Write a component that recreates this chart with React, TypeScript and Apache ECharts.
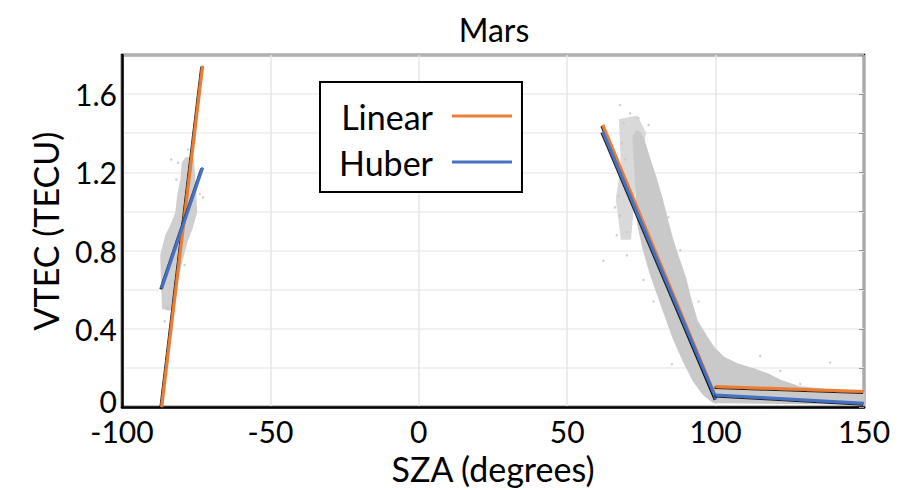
import React, { useEffect, useRef } from "react";
import * as echarts from "echarts";

const xTicks = [-100, -50, 0, 50, 100, 150];
const yLabelValues = [0, 0.4, 0.8, 1.2, 1.6];

// Fitted lines [x, y]
const linearLeft = [[-86.6, 0], [-72.8, 1.745]];
const huberLeft = [[-86.6, 0.608], [-72.8, 1.225]];
const linearRight1 = [[62.0, 1.443], [99.9, 0.059]];
const huberRight1 = [[62.0, 1.409], [100.2, 0.042]];
const linearRight2 = [[100, 0.105], [150, 0.08]];
const huberRight2 = [[100, 0.062], [150, 0.02]];

const leftCloud = [
  [-86.2, 0.506], [-86.8, 0.776], [-85.1, 0.878], [-83.4, 0.928], [-81.7, 0.996],
  [-81.1, 1.08], [-80.0, 1.164], [-79.5, 1.249], [-78.3, 1.274], [-76.1, 1.266],
  [-75.5, 1.148], [-75.0, 0.996], [-76.6, 0.911], [-78.3, 0.844], [-80.0, 0.743],
  [-81.7, 0.641], [-82.8, 0.557], [-84.0, 0.498],
];
const rightCloud = [
  [72.3, 1.384], [72.9, 1.232], [73.4, 1.063], [74.0, 0.928], [75.7, 0.81],
  [77.9, 0.692], [80.2, 0.591], [83.0, 0.473], [85.8, 0.354], [89.2, 0.236],
  [92.6, 0.135], [95.9, 0.067], [99.3, 0.025], [100.4, 0.025], [149.9, 0.017],
  [149.9, 0.076], [139.8, 0.084], [128.5, 0.101], [121.8, 0.135], [117.3, 0.169],
  [112.8, 0.194], [107.2, 0.219], [102.7, 0.253], [99.3, 0.304], [97.1, 0.354],
  [93.7, 0.439], [91.4, 0.557], [89.8, 0.658], [87.5, 0.759], [85.3, 0.861],
  [83.6, 0.962], [81.9, 1.063], [79.6, 1.181], [77.4, 1.283], [75.7, 1.367],
  [74.6, 1.401], [73.4, 1.409],
];
// Sparser halo on the upper left of the right cloud
const rightHalo = [
  [67.8, 1.468], [73.4, 1.485], [76.3, 1.401], [73.4, 1.232], [72.3, 1.063],
  [71.2, 0.861], [68.4, 0.861], [66.7, 1.063], [68.4, 1.232],
];
const sparsePoints = [
  [67.8, 1.544], [71.2, 1.502], [69.0, 1.451], [74.0, 1.477], [77.4, 1.443],
  [68.4, 1.35], [69.5, 1.266], [67.3, 1.08], [66.1, 1.021], [67.8, 0.979],
  [66.7, 0.878], [70.1, 0.895], [62.2, 0.748], [70.1, 0.776], [75.7, 0.65],
  [79.1, 0.54], [94.3, 0.54], [88.1, 0.802], [84.1, 0.97], [85.3, 0.219],
  [94.3, 0.405], [115.0, 0.262], [121.8, 0.186], [138.6, 0.228], [128.5, 0.118],
  [-83.4, 1.266], [-81.1, 1.249], [-81.7, 1.164], [-73.8, 1.089], [-72.7, 1.072],
  [-78.9, 0.726], [-85.6, 0.439], [-75.5, 1.367], [-77.8, 1.317], [-84.5, 0.506],
];
const clouds = [
  { pts: rightHalo, fill: "#d9d9d9" },
  { pts: leftCloud, fill: "#cfcfcf" },
  { pts: rightCloud, fill: "#c9c9c9" },
];

const FONT = "Lato, 'Open Sans', sans-serif";
const ORANGE = "#ED7D31";
const BLUE = "#4472C4";

export default function App() {
  const ref = useRef<HTMLDivElement>(null);
  useEffect(() => {
    document.body.style.margin = "0";
    if (!ref.current) return;
    const chart = echarts.init(ref.current, null, { renderer: "svg" });
    const mkLine = (name: string, color: string, data: number[][]) => ({
      type: "line",
      name,
      data,
      showSymbol: false,
      symbol: "none",
      lineStyle: {
        color,
        width: 3,
        shadowColor: "rgba(0,0,0,0.85)",
        shadowBlur: 0,
        shadowOffsetX: -1,
        shadowOffsetY: 1,
      },
      itemStyle: { color },
      z: 5,
    });
    chart.setOption({
      animation: false,
      textStyle: { fontFamily: FONT },
      title: {
        text: "Mars",
        left: 489,
        textAlign: "center",
        top: 8,
        textStyle: { fontSize: 32, fontWeight: "normal", color: "#000", fontFamily: FONT },
      },
      grid: {
        left: 122,
        right: 58,
        top: 55,
        bottom: 80,
        show: true,
        borderColor: "#000",
        borderWidth: 2.5,
        backgroundColor: "#fff",
      },
      legend: {
        left: 320,
        top: 82,
        orient: "vertical",
        align: "right",
        backgroundColor: "#fff",
        borderColor: "#000",
        borderWidth: 2,
        borderRadius: 0,
        padding: [17, 10, 13, 19],
        itemGap: 12,
        itemWidth: 60,
        itemHeight: 3,
        icon: "rect",
        data: [
          { name: "Linear", itemStyle: { color: ORANGE } },
          { name: "Huber", itemStyle: { color: BLUE } },
        ],
        textStyle: {
          fontSize: 34,
          color: "#000",
          fontFamily: FONT,
          padding: [0, 14, 0, 0],
        },
      },
      xAxis: {
        type: "value",
        min: xTicks[0],
        max: xTicks[xTicks.length - 1],
        interval: 50,
        name: "SZA (degrees)",
        nameLocation: "middle",
        nameGap: 41,
        nameTextStyle: { fontSize: 34, color: "#000", fontFamily: FONT },
        axisLine: { show: true, onZero: false, lineStyle: { color: "#000", width: 2.5 } },
        axisTick: { show: false },
        axisLabel: { fontSize: 30, color: "#000", margin: 12, lineHeight: 24, fontFamily: FONT },
        splitLine: { show: true, lineStyle: { color: "#e6e6e6", width: 1.5 } },
      },
      yAxis: [
        {
          type: "value",
          min: 0,
          max: 1.8,
          interval: 0.2,
          name: "VTEC (TECU)",
          nameLocation: "middle",
          nameGap: 60,
          nameTextStyle: { fontSize: 34, color: "#000", fontFamily: FONT },
          axisLine: { show: true, onZero: false, lineStyle: { color: "#000", width: 2.5 } },
          axisTick: { show: false },
          axisLabel: {
            fontSize: 30,
            lineHeight: 18,
            color: "#000",
            margin: 5,
            fontFamily: FONT,
            rich: {
              z: { fontSize: 30, lineHeight: 18, fontFamily: FONT, color: "#000", padding: [0, 0, 12, 0] },
            },
            formatter: (v: number) => {
              const r = Number(v.toFixed(1));
              if (!yLabelValues.some((t) => Math.abs(t - r) < 1e-6)) return "";
              return r === 0 ? "{z|0}" : String(r);
            },
          },
          splitLine: { show: true, lineStyle: { color: "#ececec", width: 1.5 } },
        },
        {
          type: "value",
          min: 0,
          max: 1.8,
          interval: 0.2,
          position: "right",
          axisLine: { show: false, onZero: false },
          axisTick: { show: true, inside: true, length: 5, lineStyle: { color: "#999", width: 1 } },
          axisLabel: { show: false },
          splitLine: { show: false },
        },
      ],
      series: [
        {
          type: "custom",
          name: "clouds",
          data: clouds.map((_, i) => [i]),
          silent: true,
          z: 1,
          renderItem: (params: any, api: any) => {
            const c = clouds[params.dataIndex];
            return {
              type: "polygon",
              shape: { points: c.pts.map((p) => api.coord(p)) },
              style: { fill: c.fill, stroke: c.fill, lineWidth: 2 },
            };
          },
        },
        {
          type: "scatter",
          name: "points",
          data: sparsePoints,
          symbolSize: 2.5,
          itemStyle: { color: "#c4c4c4" },
          silent: true,
          z: 2,
        },
        mkLine("Linear", ORANGE, linearLeft),
        mkLine("Huber", BLUE, huberLeft),
        mkLine("Linear", ORANGE, linearRight1),
        mkLine("Huber", BLUE, huberRight1),
        mkLine("Linear", ORANGE, linearRight2),
        mkLine("Huber", BLUE, huberRight2),
      ],
    });
    return () => chart.dispose();
  }, []);
  return <div ref={ref} style={{ width: 922, height: 490 }} />;
}
